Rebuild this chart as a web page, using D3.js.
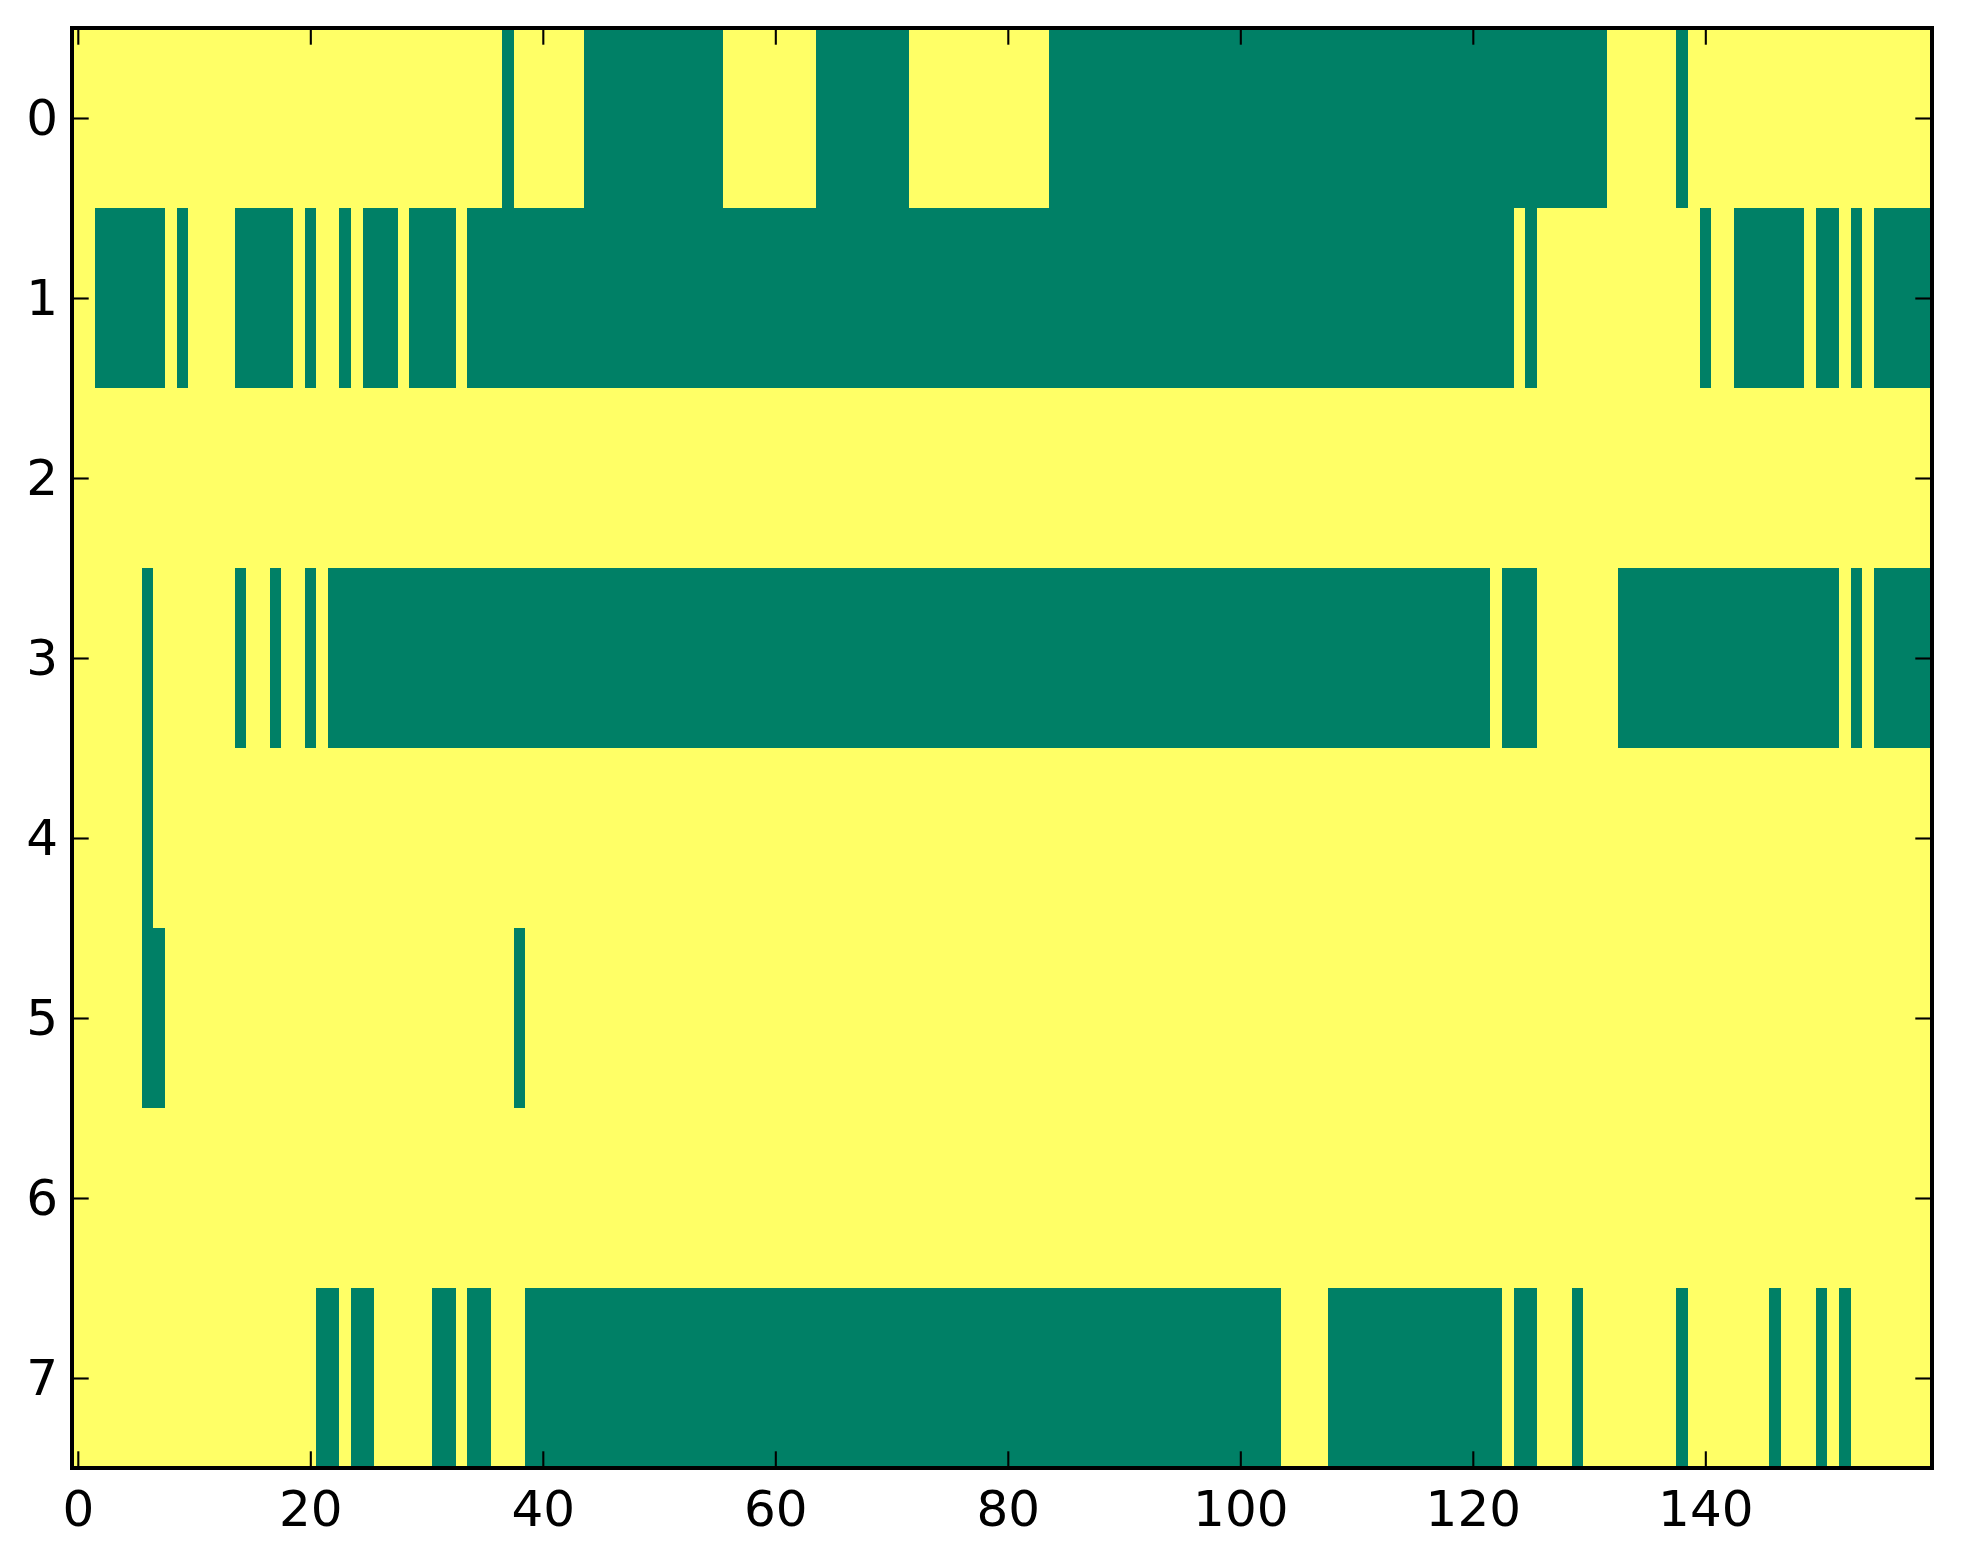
<!DOCTYPE html>
<html>
<head>
<meta charset="utf-8">
<script src="https://cdn.jsdelivr.net/npm/d3@7"></script>
<style>
  html, body { margin: 0; padding: 0; background: #ffffff; }
  svg { display: block; }
</style>
</head>
<body>
<svg id="chart" width="1963" height="1564"></svg>
<script>
// ---- data (1 = yellow / high, 0 = green / low), one string per row, groups of 10 columns ----
const rowLabels = [0, 1, 2, 3, 4, 5, 6, 7];
const xTickValues = [0, 20, 40, 60, 80, 100, 120, 140];
const row0 = "1111111111 1111111111 1111111111 1111111011 1111000000 0000001111 1111000000 0011111111 1111000000 0000000000 0000000000 0000000000 0000000000 0011111101 1111111111 1111111111";
const row1 = "1100000010 1111000001 0110100010 0001000000 0000000000 0000000000 0000000000 0000000000 0000000000 0000000000 0000000000 0000000000 0000101111 1111111111 0110000001 0010100000";
const row2 = "1111111111 1111111111 1111111111 1111111111 1111111111 1111111111 1111111111 1111111111 1111111111 1111111111 1111111111 1111111111 1111111111 1111111111 1111111111 1111111111";
const row3 = "1111110111 1111011011 0100000000 0000000000 0000000000 0000000000 0000000000 0000000000 0000000000 0000000000 0000000000 0000000000 0010001111 1110000000 0000000000 0010100000";
const row4 = "1111110111 1111111111 1111111111 1111111111 1111111111 1111111111 1111111111 1111111111 1111111111 1111111111 1111111111 1111111111 1111111111 1111111111 1111111111 1111111111";
const row5 = "1111110011 1111111111 1111111111 1111111101 1111111111 1111111111 1111111111 1111111111 1111111111 1111111111 1111111111 1111111111 1111111111 1111111111 1111111111 1111111111";
const row6 = "1111111111 1111111111 1111111111 1111111111 1111111111 1111111111 1111111111 1111111111 1111111111 1111111111 1111111111 1111111111 1111111111 1111111111 1111111111 1111111111";
const row7 = "1111111111 1111111111 1001001111 1001001110 0000000000 0000000000 0000000000 0000000000 0000000000 0000000000 0000111100 0000000000 0001001110 1111111101 1111110111 0101111111";
const rowStrings = [row0, row1, row2, row3, row4, row5, row6, row7];

// ---- build cell table ----
const cells = [];
rowStrings.forEach((s, r) => {
  s.replace(/\s+/g, "").split("").forEach((ch, c) => {
    cells.push({ row: r, col: c, value: +ch });
  });
});
const nCols = 160, nRows = 8;

// ---- layout ----
const pLeft = 72, pRight = 1932, pTop = 28, pBottom = 1468;
const tickLen = 16.7;
const fontSize = 50;

const svg = d3.select("#chart");
svg.append("rect").attr("width", 1963).attr("height", 1564).attr("fill", "#ffffff");

const x = d3.scaleLinear().domain([-0.5, nCols - 0.5]).range([pLeft, pRight]);
const y = d3.scaleLinear().domain([-0.5, nRows - 0.5]).range([pTop, pBottom]);
const color = d3.scaleLinear().domain([0, 1]).range(["#008066", "#ffff66"]);

svg.append("g")
  .attr("shape-rendering", "crispEdges")
  .selectAll("rect")
  .data(cells)
  .join("rect")
  .attr("x", d => x(d.col - 0.5))
  .attr("y", d => y(d.row - 0.5))
  .attr("width", d => x(d.col + 0.5) - x(d.col - 0.5) + 0.6)
  .attr("height", d => y(d.row + 0.5) - y(d.row - 0.5) + 0.6)
  .attr("fill", d => color(d.value));

// clip overflow at right/bottom edges
svg.append("rect").attr("x", pRight).attr("y", 0).attr("width", 1963 - pRight).attr("height", pBottom).attr("fill", "#fff");
svg.append("rect").attr("x", 0).attr("y", pBottom).attr("width", 1963).attr("height", 1564 - pBottom).attr("fill", "#fff");

function styleAxis(g, showLabels) {
  g.select(".domain").remove();
  g.selectAll(".tick line").attr("stroke", "#000").attr("stroke-width", 2.1);
  g.selectAll(".tick text")
    .attr("fill", "#000")
    .style("font-family", "'DejaVu Sans', sans-serif")
    .style("font-size", fontSize + "px");
  if (!showLabels) g.selectAll(".tick text").remove();
}

svg.append("g")
  .attr("transform", `translate(0,${pBottom})`)
  .call(d3.axisBottom(x).tickValues(xTickValues).tickFormat(d3.format("d"))
    .tickSizeInner(-tickLen).tickSizeOuter(0).tickPadding(22))
  .call(g => styleAxis(g, true));

svg.append("g")
  .attr("transform", `translate(0,${pTop})`)
  .call(d3.axisTop(x).tickValues(xTickValues).tickSizeInner(-tickLen).tickSizeOuter(0))
  .call(g => styleAxis(g, false));

svg.append("g")
  .attr("transform", `translate(${pLeft},0)`)
  .call(d3.axisLeft(y).tickValues(rowLabels).tickFormat(d3.format("d"))
    .tickSizeInner(-tickLen).tickSizeOuter(0).tickPadding(14))
  .call(g => styleAxis(g, true));

svg.append("g")
  .attr("transform", `translate(${pRight},0)`)
  .call(d3.axisRight(y).tickValues(rowLabels).tickSizeInner(-tickLen).tickSizeOuter(0))
  .call(g => styleAxis(g, false));

// frame
svg.append("rect")
  .attr("x", pLeft).attr("y", pTop)
  .attr("width", pRight - pLeft).attr("height", pBottom - pTop)
  .attr("fill", "none").attr("stroke", "#000").attr("stroke-width", 4);
</script>
</body>
</html>
